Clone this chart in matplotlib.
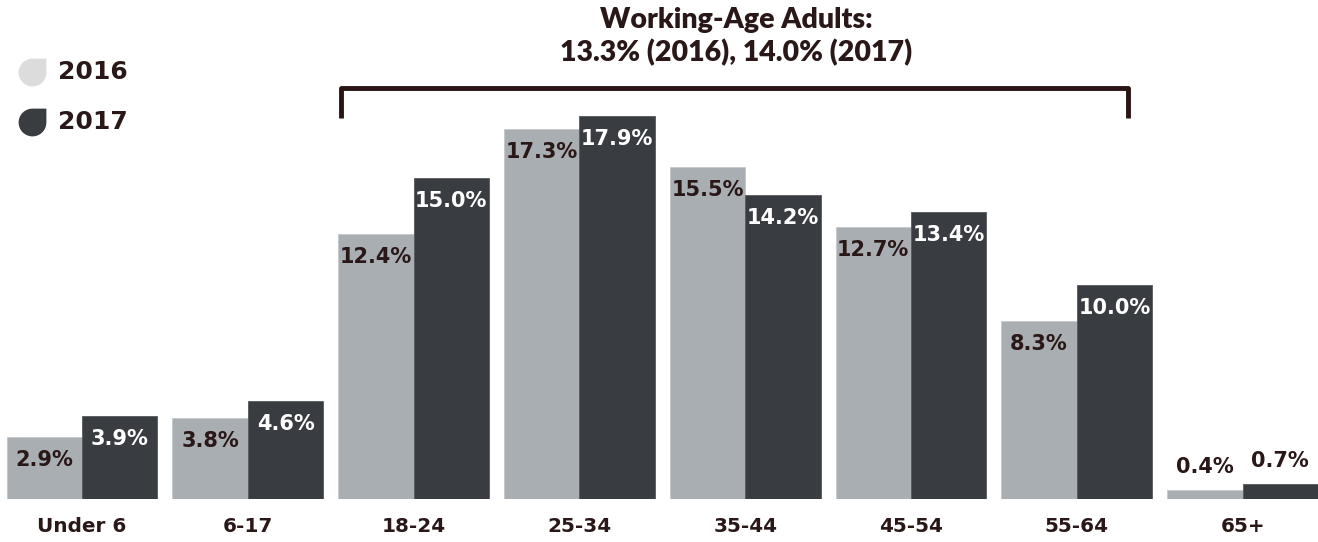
import matplotlib
matplotlib.use("Agg")
import matplotlib.pyplot as plt
from matplotlib.path import Path
import numpy as np

categories = ["Under 6", "6-17", "18-24", "25-34", "35-44", "45-54", "55-64", "65+"]
v2016 = [2.9, 3.8, 12.4, 17.3, 15.5, 12.7, 8.3, 0.4]
v2017 = [3.9, 4.6, 15.0, 17.9, 14.2, 13.4, 10.0, 0.7]
title_lines = ["Working-Age Adults:", "13.3% (2016), 14.0% (2017)"]

c2016 = "#a9aeb3"
c2017 = "#393d41"
c_legend16 = "#dcdcdc"
txt = "#2a1717"
wide = "DejaVu Sans"
cond = "Lato"

W, H = 1318, 542
fig = plt.figure(figsize=(W / 100, H / 100), dpi=100)
ax = fig.add_axes([0, 43 / H, 1, 499 / H])
ax.set_xlim(-0.4946, 7.455)
ax.set_ylim(0, 499 / 21.4)
ax.axis("off")

x = np.arange(len(categories))
w = 0.455
ax.bar(x - w / 2, v2016, w, color=c2016, edgecolor="#c4c8cc", linewidth=0.6)
ax.bar(x + w / 2, v2017, w, color=c2017, edgecolor="#55595d", linewidth=0.6)

lab_kw = dict(ha="center", va="center", fontsize=15, fontweight="bold", family=wide)
off = 23 / 21.4
for i in range(len(categories)):
    if v2016[i] > 2:
        ax.text(x[i] - w / 2, v2016[i] - off, f"{v2016[i]:.1f}%", color=txt, **lab_kw)
        ax.text(x[i] + w / 2, v2017[i] - off, f"{v2017[i]:.1f}%", color="white", **lab_kw)
    else:
        ax.text(x[i] - w / 2, v2016[i] + off, f"{v2016[i]:.1f}%", color=txt, **lab_kw)
        ax.text(x[i] + w / 2, v2017[i] + off, f"{v2017[i]:.1f}%", color=txt, **lab_kw)

for i, c in enumerate(categories):
    fig.text((82 + i * 165.8) / W, 1 - 527 / H, c, ha="center", va="center",
             fontsize=14.4, fontweight="bold", family=wide, color=txt)

# bracket over working-age groups
yb_top = (499 - 88) / 21.4
yb_bot = (499 - 118) / 21.4
xl, xr = 2 - 0.44, 6 + 0.31
ax.plot([xl, xl, xr, xr], [yb_bot, yb_top, yb_top, yb_bot], color="#2a1414",
        lw=3.5, solid_joinstyle="round", solid_capstyle="butt", clip_on=False)

fig.text(0.5585, 1 - 20 / H, title_lines[0], ha="center", va="center",
         fontsize=20.5, fontweight="heavy", family=cond, color=txt)
fig.text(0.5585, 1 - 53 / H, title_lines[1], ha="center", va="center",
         fontsize=20.5, fontweight="heavy", family=cond, color=txt)

# legend with drop shaped markers
k = 0.5523
verts = [(1, 1), (1, 0), (1, -k), (k, -1), (0, -1), (-k, -1), (-1, -k), (-1, 0),
         (-1, k), (-k, 1), (0, 1), (1, 1), (1, 1)]
codes = [Path.MOVETO, Path.LINETO, Path.CURVE4, Path.CURVE4, Path.CURVE4,
         Path.CURVE4, Path.CURVE4, Path.CURVE4, Path.CURVE4, Path.CURVE4, Path.CURVE4,
         Path.LINETO, Path.CLOSEPOLY]
drop = Path(verts, codes)
lax = fig.add_axes([0, 0, 1, 1])
lax.set_xlim(0, W)
lax.set_ylim(H, 0)
lax.axis("off")
lax.scatter([32], [72], marker=drop, s=400, color=c_legend16, linewidths=0)
lax.scatter([32], [122], marker=drop, s=400, color=c2017, linewidths=0)
lax.text(58, 72, "2016", va="center", ha="left", fontsize=18, fontweight="bold", family=wide, color=txt)
lax.text(58, 122, "2017", va="center", ha="left", fontsize=18, fontweight="bold", family=wide, color=txt)

fig.savefig("out.png", dpi=100)
